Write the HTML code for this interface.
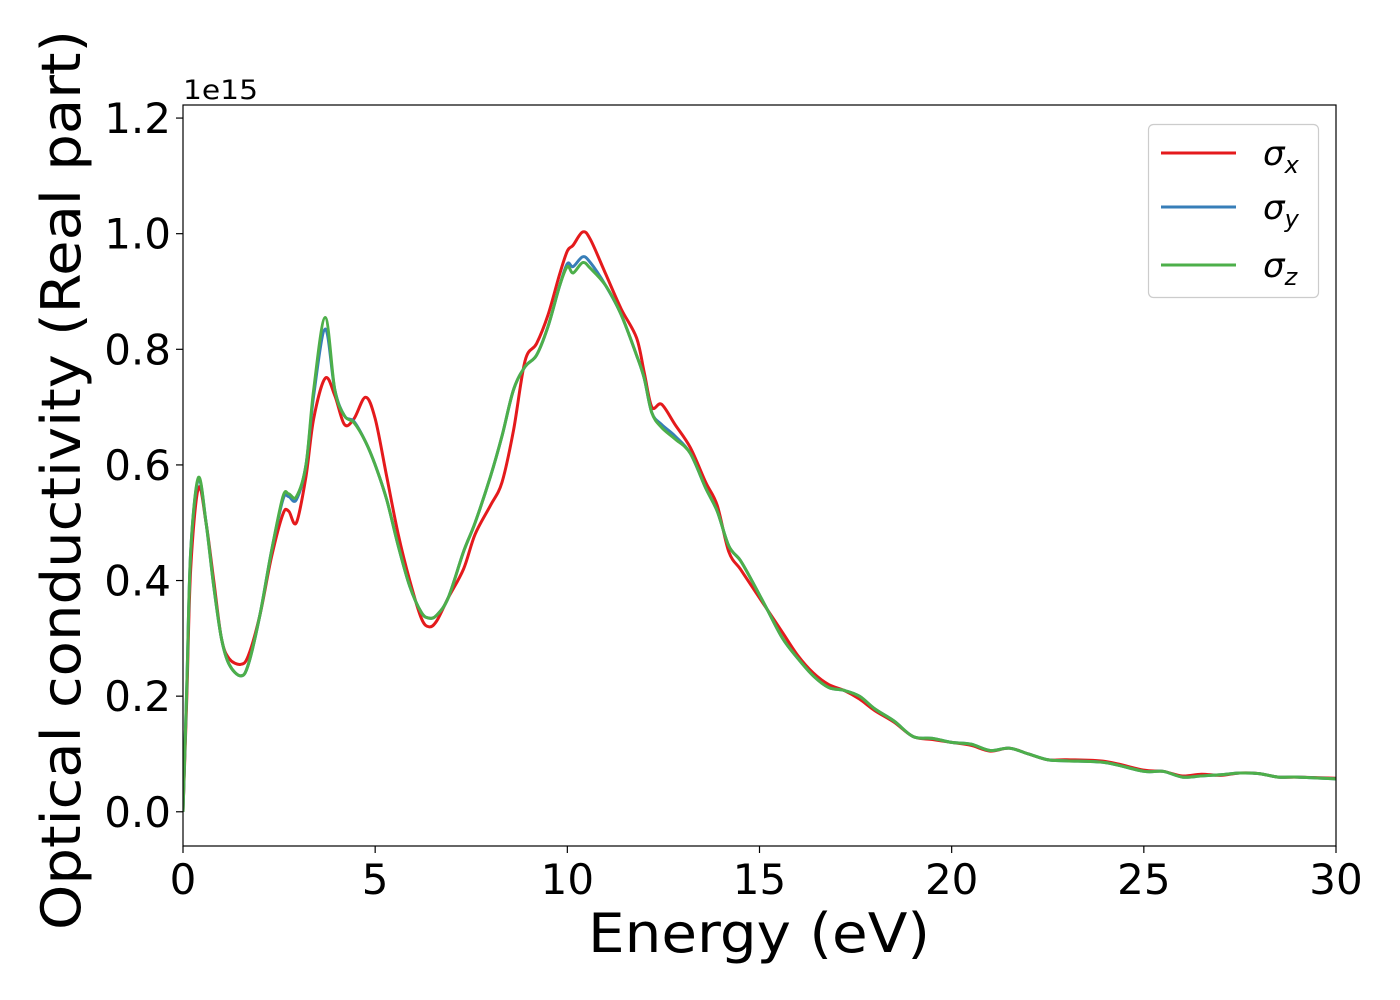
<!DOCTYPE html>
<html><head><meta charset="utf-8"><style>
html,body{margin:0;padding:0;background:#fff;}
svg{display:block;font-family:"DejaVu Sans","Liberation Sans",sans-serif;}
</style></head><body>
<svg id="chart" width="1400" height="1000" viewBox="0 0 1400 1000" xmlns="http://www.w3.org/2000/svg">
<rect x="0" y="0" width="1400" height="1000" fill="#fff"/>
<g id="plot"></g>
<g id="axes"></g>
<text x="183" y="99" font-size="27" textLength="75" lengthAdjust="spacingAndGlyphs">1e15</text>
<text x="588" y="952" font-size="54" textLength="342" lengthAdjust="spacingAndGlyphs">Energy (eV)</text>
<text transform="translate(80,930) rotate(-90)" font-size="54" textLength="900" lengthAdjust="spacingAndGlyphs">Optical conductivity (Real part)</text>
<g>
<rect x="1148.5" y="124.5" width="170" height="173" rx="5" fill="#fff" stroke="#ccc" stroke-width="1.2"/>
<line x1="1161" y1="153" x2="1236" y2="153" stroke="#e41a1c" stroke-width="3"/>
<text x="1263" y="165" font-size="34" font-style="italic">σ<tspan font-size="24" dy="8">x</tspan></text>
<line x1="1161" y1="207" x2="1236" y2="207" stroke="#377eb8" stroke-width="3"/>
<text x="1263" y="219" font-size="34" font-style="italic">σ<tspan font-size="24" dy="8">y</tspan></text>
<line x1="1161" y1="265" x2="1236" y2="265" stroke="#4daf4a" stroke-width="3"/>
<text x="1263" y="277" font-size="34" font-style="italic">σ<tspan font-size="24" dy="8">z</tspan></text>
</g>
</svg>
<script>
const xTicks=[0,5,10,15,20,25,30];
const yTicks=[0.0,0.2,0.4,0.6,0.8,1.0,1.2];
const yTickLabels=["0.0","0.2","0.4","0.6","0.8","1.0","1.2"];
const ePts=[0,0.1,0.2,0.4,0.6,0.8,1.0,1.2,1.5,1.7,2.0,2.3,2.6,2.75,2.95,3.2,3.4,3.7,3.95,4.2,4.45,4.75,5.0,5.3,5.6,5.9,6.2,6.4,6.6,6.9,7.3,7.6,8.0,8.3,8.6,8.9,9.2,9.5,9.8,10.0,10.15,10.4,10.6,11.0,11.4,11.8,12.0,12.2,12.45,12.8,13.2,13.6,13.9,14.2,14.5,14.8,15.2,15.6,16.0,16.4,16.8,17.2,17.6,18.0,18.5,19.0,19.5,20.0,20.5,21.0,21.5,22.0,22.5,23.0,24.0,25.0,25.5,26.0,26.5,27.0,27.5,28.0,28.5,29.0,30.0];
const sigmaX=[0,0.2,0.42,0.56,0.50,0.40,0.30,0.265,0.255,0.27,0.34,0.44,0.515,0.52,0.50,0.58,0.68,0.75,0.72,0.67,0.68,0.717,0.68,0.58,0.48,0.40,0.335,0.32,0.33,0.37,0.42,0.48,0.53,0.57,0.66,0.78,0.81,0.86,0.93,0.97,0.98,1.003,0.99,0.93,0.87,0.82,0.76,0.70,0.705,0.67,0.63,0.57,0.53,0.45,0.42,0.39,0.35,0.31,0.27,0.24,0.22,0.21,0.195,0.175,0.155,0.13,0.125,0.12,0.115,0.105,0.11,0.10,0.09,0.09,0.087,0.072,0.07,0.062,0.065,0.063,0.067,0.066,0.06,0.06,0.058];
const sigmaY=[0,0.22,0.45,0.575,0.50,0.39,0.30,0.255,0.235,0.255,0.34,0.45,0.54,0.545,0.54,0.60,0.72,0.835,0.73,0.685,0.675,0.64,0.60,0.54,0.46,0.39,0.345,0.335,0.34,0.37,0.45,0.50,0.58,0.65,0.73,0.77,0.79,0.84,0.91,0.948,0.943,0.96,0.95,0.91,0.86,0.79,0.75,0.69,0.67,0.65,0.62,0.56,0.52,0.46,0.435,0.40,0.35,0.30,0.265,0.235,0.215,0.21,0.20,0.178,0.157,0.13,0.127,0.12,0.117,0.106,0.11,0.10,0.09,0.088,0.085,0.07,0.07,0.06,0.062,0.064,0.067,0.066,0.06,0.06,0.057];
const sigmaZ=[0,0.22,0.45,0.578,0.50,0.39,0.30,0.255,0.235,0.255,0.34,0.45,0.545,0.55,0.545,0.60,0.73,0.855,0.73,0.685,0.673,0.64,0.60,0.54,0.46,0.39,0.345,0.335,0.34,0.37,0.45,0.50,0.58,0.65,0.73,0.77,0.79,0.84,0.91,0.943,0.932,0.95,0.94,0.91,0.86,0.79,0.75,0.69,0.665,0.645,0.62,0.56,0.52,0.46,0.435,0.40,0.35,0.30,0.265,0.235,0.215,0.21,0.20,0.178,0.157,0.13,0.127,0.12,0.117,0.106,0.11,0.10,0.09,0.088,0.085,0.07,0.07,0.06,0.062,0.064,0.067,0.066,0.06,0.06,0.057];
const seriesNames=["sigma-x","sigma-y","sigma-z"];
const seriesColors=["#e41a1c","#377eb8","#4daf4a"];

const L=183,R=1336,T=105,B=846,xMin=0,xMax=30,yMin=-0.0592,yMax=1.2226;
const sx=v=>L+(v-xMin)/(xMax-xMin)*(R-L);
const sy=v=>B-(v-yMin)/(yMax-yMin)*(B-T);
const NS="http://www.w3.org/2000/svg";
const plot=document.getElementById('plot'),axes=document.getElementById('axes');
function mk(tag,attrs,parent){const e=document.createElementNS(NS,tag);for(const k in attrs)e.setAttribute(k,attrs[k]);parent.appendChild(e);return e;}
const cp=mk('clipPath',{id:'clip'},plot);mk('rect',{x:L,y:T,width:R-L,height:B-T},cp);
function pathFor(xs,ys){const p=xs.map((x,i)=>[sx(x),sy(ys[i])]);let d='M'+p[0][0]+','+p[0][1];
for(let i=0;i<p.length-1;i++){const p0=p[i-1]||p[i],p1=p[i],p2=p[i+1],p3=p[i+2]||p2;
const c1=[p1[0]+(p2[0]-p0[0])/6,p1[1]+(p2[1]-p0[1])/6],c2=[p2[0]-(p3[0]-p1[0])/6,p2[1]-(p3[1]-p1[1])/6];
d+=' C'+c1[0].toFixed(2)+','+c1[1].toFixed(2)+' '+c2[0].toFixed(2)+','+c2[1].toFixed(2)+' '+p2[0].toFixed(2)+','+p2[1].toFixed(2);}return d;}
[sigmaX,sigmaY,sigmaZ].forEach((s,i)=>{
const el=mk('path',{d:pathFor(ePts,s),fill:'none',stroke:seriesColors[i],'stroke-width':3,'stroke-linejoin':'round','clip-path':'url(#clip)'},plot);


});
const frame=mk('rect',{x:L,y:T,width:R-L,height:B-T,fill:'none',stroke:'#000','stroke-width':1.2},axes);


xTicks.forEach(v=>{const x=sx(v);
const t=mk('line',{x1:x,y1:B,x2:x,y2:B+7,stroke:'#000','stroke-width':1.2},axes);


const lb=mk('text',{x:x,y:B+48,'font-size':42,'text-anchor':'middle'},axes);lb.textContent=String(v);


});
yTicks.forEach((v,i)=>{const y=sy(v);
const t=mk('line',{x1:L-7,y1:y,x2:L,y2:y,stroke:'#000','stroke-width':1.2},axes);


const lb=mk('text',{x:L-12,y:y+15,'font-size':42,'text-anchor':'end'},axes);lb.textContent=yTickLabels[i];


});
</script>
</body></html>
